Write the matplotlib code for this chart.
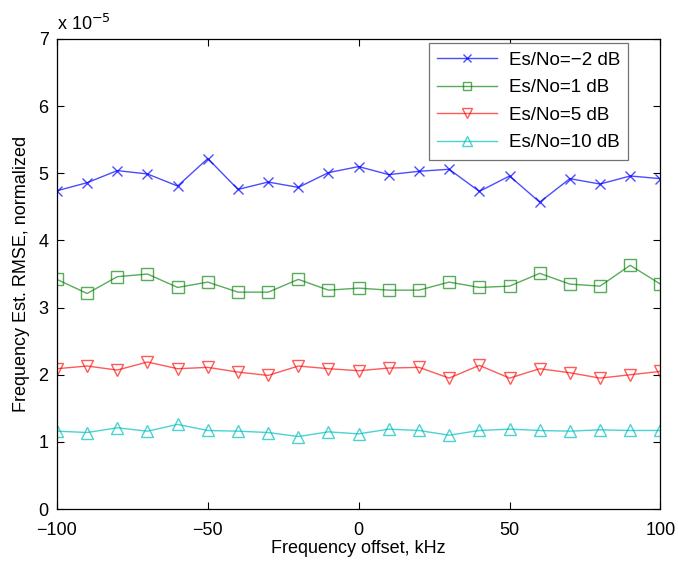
import numpy as np
import matplotlib
matplotlib.use("Agg")
import matplotlib.pyplot as plt

# frequency offset (kHz)
offset = [-100, -90, -80, -70, -60, -50, -40, -30, -20, -10, 0,
          10, 20, 30, 40, 50, 60, 70, 80, 90, 100]

# normalized RMSE, in units of 1e-5
rmse_m2 = [4.74, 4.86, 5.04, 4.99, 4.81, 5.22, 4.76, 4.87, 4.79, 5.01, 5.10,
           4.98, 5.03, 5.06, 4.73, 4.96, 4.57, 4.92, 4.84, 4.96, 4.92]
rmse_1 = [3.42, 3.21, 3.46, 3.50, 3.30, 3.38, 3.23, 3.23, 3.42, 3.26, 3.29,
          3.26, 3.26, 3.38, 3.30, 3.32, 3.51, 3.35, 3.32, 3.63, 3.35]
rmse_5 = [2.09, 2.13, 2.07, 2.19, 2.09, 2.11, 2.04, 1.99, 2.13, 2.09, 2.06,
          2.10, 2.11, 1.95, 2.14, 1.95, 2.09, 2.03, 1.95, 2.00, 2.05]
rmse_10 = [1.16, 1.14, 1.21, 1.16, 1.26, 1.17, 1.16, 1.14, 1.08, 1.15, 1.12,
           1.19, 1.17, 1.10, 1.17, 1.19, 1.17, 1.16, 1.18, 1.17, 1.17]

labels = ["Es/No=\u22122 dB", "Es/No=1 dB", "Es/No=5 dB", "Es/No=10 dB"]

plt.rcParams["font.family"] = "Liberation Sans"
plt.rcParams["font.size"] = 13

fig = plt.figure(figsize=(6.78, 5.65), dpi=100)
ax = fig.add_axes([0.084, 0.099, 0.89, 0.832])

ax.plot(offset, rmse_m2, color=(0, 0, 1, 0.7), marker="x", markersize=6.5,
        lw=1, mew=1, label=labels[0])
ax.plot(offset, rmse_1, color=(0, 0.5, 0, 0.65), marker="s", markersize=8,
        mfc="none", lw=1, mew=1, label=labels[1])
ax.plot(offset, rmse_5, color=(1, 0, 0, 0.65), marker="v", markersize=9,
        mfc="none", lw=1, mew=1, label=labels[2])
ax.plot(offset, rmse_10, color=(0, 0.75, 0.75, 0.7), marker="^", markersize=9,
        mfc="none", lw=1, mew=1, label=labels[3])

ax.set_xlim(-100, 100)
ax.set_ylim(0, 7)
ax.set_xticks([-100, -50, 0, 50, 100])
ax.set_xticklabels(["\u2212100", "\u221250", "0", "50", "100"])
ax.set_yticks(range(0, 8))
ax.tick_params(direction="in", top=True, right=True, length=5, width=0.8, pad=6)
ax.tick_params(axis="x", pad=9)
for sp in ax.spines.values():
    sp.set_linewidth(0.9)

ax.text(0.0, 1.01, "x 10$^{-5}$", transform=ax.transAxes, ha="left", va="bottom", fontsize=13)

ax.set_xlabel("Frequency offset, kHz", labelpad=1)
ax.set_ylabel("Frequency Est. RMSE, normalized", labelpad=6)

leg = ax.legend(loc="upper right", bbox_to_anchor=(0.947, 0.991), borderaxespad=0,
                fancybox=False, edgecolor="0.45", framealpha=1, handlelength=3.2,
                borderpad=0.45, labelspacing=0.55, handletextpad=0.6,
                markerscale=0.8, fontsize=13.5)
leg.get_frame().set_linewidth(0.9)

fig.savefig("out.png", dpi=100)
